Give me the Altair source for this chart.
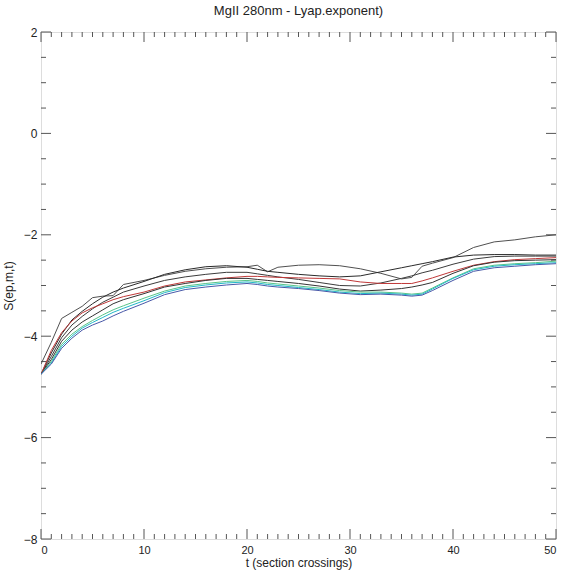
import altair as alt
import pandas as pd

# ---- data ----
t = [0, 1, 2, 3, 4, 5, 6, 7, 8, 10, 12, 14, 16, 18, 20, 21, 22, 23, 25, 27, 29,
     31, 33, 35, 36, 37, 38, 40, 42, 44, 46, 48, 50]

line_a = [-4.55, -4.12, -3.65, -3.53, -3.41, -3.24, -3.21, -3.20, -2.98, -2.90, -2.80,
          -2.72, -2.67, -2.64, -2.63, -2.60, -2.73, -2.64, -2.60, -2.59, -2.61,
          -2.67, -2.76, -2.87, -2.84, -2.62, -2.56, -2.45, -2.25, -2.14, -2.10, -2.04, -2.00]
line_b = [-4.75, -4.33, -3.96, -3.68, -3.51, -3.36, -3.23, -3.13, -3.05, -2.92, -2.78,
          -2.69, -2.63, -2.61, -2.64, -2.68, -2.72, -2.74, -2.78, -2.81, -2.83,
          -2.81, -2.73, -2.65, -2.61, -2.57, -2.53, -2.44, -2.40, -2.39, -2.39, -2.40, -2.40]
line_c = [-4.75, -4.40, -4.03, -3.78, -3.61, -3.46, -3.33, -3.23, -3.13, -3.01, -2.90,
          -2.83, -2.78, -2.74, -2.74, -2.77, -2.80, -2.83, -2.88, -2.94, -3.00,
          -3.01, -2.95, -2.86, -2.81, -2.75, -2.70, -2.58, -2.48, -2.43, -2.42, -2.42, -2.42]
line_red = [-4.75, -4.28, -3.93, -3.70, -3.54, -3.44, -3.36, -3.28, -3.22, -3.13, -3.01,
            -2.93, -2.89, -2.85, -2.82, -2.82, -2.83, -2.84, -2.85, -2.86, -2.87,
            -2.93, -2.96, -2.96, -2.96, -2.91, -2.85, -2.72, -2.60, -2.53, -2.49, -2.47, -2.45]
line_d = [-4.75, -4.46, -4.10, -3.88, -3.72, -3.60, -3.48, -3.36, -3.28, -3.16, -3.03,
          -2.96, -2.90, -2.86, -2.86, -2.88, -2.90, -2.92, -2.96, -3.01, -3.07,
          -3.11, -3.09, -3.06, -3.03, -2.99, -2.94, -2.76, -2.61, -2.54, -2.51, -2.50, -2.49]
line_green = [-4.75, -4.50, -4.16, -3.96, -3.81, -3.69, -3.58, -3.48, -3.40, -3.25, -3.11,
              -3.01, -2.96, -2.92, -2.90, -2.92, -2.95, -2.97, -3.01, -3.05, -3.10,
              -3.13, -3.13, -3.15, -3.17, -3.15, -3.05, -2.85, -2.67, -2.60, -2.57, -2.55, -2.52]
line_cyan = [-4.75, -4.53, -4.20, -4.00, -3.84, -3.73, -3.63, -3.53, -3.45, -3.30, -3.14,
             -3.04, -2.99, -2.95, -2.93, -2.95, -2.98, -3.00, -3.04, -3.08, -3.13,
             -3.16, -3.15, -3.17, -3.19, -3.17, -3.07, -2.86, -2.69, -2.62, -2.59, -2.57, -2.55]
line_blue = [-4.75, -4.55, -4.24, -4.04, -3.88, -3.78, -3.70, -3.60, -3.51, -3.35, -3.18,
             -3.08, -3.03, -2.99, -2.96, -2.98, -3.01, -3.03, -3.06, -3.10, -3.15,
             -3.18, -3.17, -3.19, -3.21, -3.19, -3.10, -2.90, -2.72, -2.65, -2.62, -2.59, -2.57]

series_names = ["a", "b", "c", "red", "d", "green", "cyan", "blue"]
series_colors = ["#505050", "#2a2a2a", "#3c3c3c", "#c03838", "#333333", "#58c488", "#22b8c8", "#4858a8"]
series_values = [line_a, line_b, line_c, line_red, line_d, line_green, line_cyan, line_blue]

x_major = [0, 10, 20, 30, 40, 50]
x_minor = [v for v in range(0, 51) if v % 10 != 0]
y_major = [-8, -6, -4, -2, 0, 2]
y_minor = [v / 2 for v in range(-16, 5) if v % 4 != 0]

rows = []
for name, vals in zip(series_names, series_values):
    for ti, vi in zip(t, vals):
        rows.append({"t": ti, "S": vi, "series": name})
df = pd.DataFrame(rows)

W, H = 515, 507
FONT = "Liberation Sans"
AX = "#555555"

xscale = alt.Scale(domain=[0, 50], nice=False, zero=False)
yscale = alt.Scale(domain=[-8, 2], nice=False, zero=False)
xaxis = alt.Axis(values=x_major, ticks=False, domain=False, grid=False, labelFont=FONT,
                 labelFontSize=11, labelColor="#222222", labelPadding=5,
                 title="t (section crossings)", titleFont=FONT, titleFontSize=12,
                 titleFontWeight="normal", titleColor="#222222", titlePadding=2)
yaxis = alt.Axis(values=y_major, ticks=False, domain=False, grid=False, labelFont=FONT,
                 labelFontSize=12, labelColor="#222222", labelPadding=4,
                 title="S(ep,m,t)", titleFont=FONT, titleFontSize=12,
                 titleFontWeight="normal", titleColor="#222222", titlePadding=8)

lines = alt.Chart(df).mark_line(strokeWidth=1, clip=True).encode(
    x=alt.X("t:Q", scale=xscale, axis=xaxis),
    y=alt.Y("S:Q", scale=yscale, axis=yaxis),
    color=alt.Color("series:N", scale=alt.Scale(domain=series_names, range=series_colors), legend=None),
    detail="series:N",
)

def xticks(vals, length, top):
    d = pd.DataFrame({"t": vals})
    if top:
        y0, y1 = 0, length
    else:
        y0, y1 = H, H - length
    return alt.Chart(d).mark_rule(color=AX, strokeWidth=1).encode(
        x=alt.X("t:Q", scale=xscale, axis=xaxis),
        y=alt.value(y0), y2=alt.value(y1))

def yticks(vals, length, right):
    d = pd.DataFrame({"S": vals})
    if right:
        x0, x1 = W, W - length
    else:
        x0, x1 = 0, length
    return alt.Chart(d).mark_rule(color=AX, strokeWidth=1).encode(
        y=alt.Y("S:Q", scale=yscale, axis=yaxis),
        x=alt.value(x0), x2=alt.value(x1))

chart = alt.layer(
    xticks(x_major, 10, False), xticks(x_minor, 5, False),
    xticks(x_major, 10, True), xticks(x_minor, 5, True),
    yticks(y_major, 10, False), yticks(y_minor, 5, False),
    yticks(y_major, 10, True), yticks(y_minor, 5, True),
    lines,
).properties(
    width=W, height=H,
    title=alt.TitleParams("MgII 280nm - Lyap.exponent)", font=FONT, fontSize=13,
                          fontWeight="normal", color="#222222", offset=8),
    padding={"left": 41, "top": 32, "right": 30, "bottom": 34},
    autosize=alt.AutoSizeParams(type="none"),
).configure_view(stroke=AX, strokeWidth=1).configure(background="white")

chart.save("out.html", embed_options={"renderer": "svg", "actions": False})
